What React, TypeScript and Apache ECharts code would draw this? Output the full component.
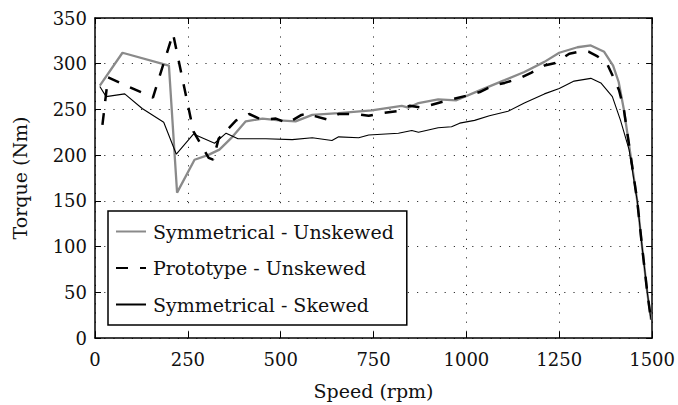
import React, { useEffect, useRef } from "react";
import * as echarts from "echarts";

const seriesNames = ["Symmetrical - Unskewed", "Prototype - Unskewed", "Symmetrical - Skewed"];

const symUnskewedSpeed = [13, 74, 199, 221, 268, 304, 335, 370, 406, 451, 496, 540, 585, 656, 745, 826, 844, 871, 924, 973, 1031, 1103, 1156, 1210, 1250, 1299, 1335, 1371, 1395, 1410, 1424, 1442, 1460, 1473, 1487, 1497];
const symUnskewedTorque = [276, 312, 298, 159, 195, 200, 206, 220, 237, 240, 238, 237, 244, 246, 249, 254, 252, 257, 261, 260, 270, 282, 291, 302, 312, 318, 320, 313, 298, 280, 250, 200, 150, 100, 50, 20];

const protoUnskewedSpeed = [20, 35, 156, 210, 265, 306, 318, 333, 380, 415, 447, 487, 518, 556, 576, 589, 625, 656, 701, 737, 772, 812, 848, 879, 924, 960, 1000, 1036, 1071, 1103, 1143, 1174, 1210, 1241, 1277, 1313, 1330, 1353, 1380, 1397, 1411, 1424, 1442, 1460, 1473, 1487, 1497];
const protoUnskewedTorque = [233, 285, 263, 333, 226, 197, 195, 218, 238, 245, 239, 240, 235, 244, 246, 243, 239, 245, 245, 243, 246, 248, 254, 252, 257, 261, 265, 269, 276, 279, 284, 290, 298, 301, 311, 314, 313, 308, 299, 284, 271, 250, 200, 150, 100, 50, 20];

const symSkewedSpeed = [13, 30, 80, 127, 185, 219, 265, 322, 353, 385, 460, 531, 585, 638, 656, 710, 737, 817, 853, 871, 924, 960, 982, 1022, 1062, 1112, 1156, 1210, 1250, 1290, 1335, 1362, 1393, 1415, 1438, 1460, 1473, 1487, 1497];
const symSkewedTorque = [275, 264, 267, 251, 236, 201, 223, 213, 224, 218, 218, 217, 219, 216, 220, 219, 222, 224, 227, 225, 230, 231, 235, 238, 243, 248, 257, 267, 273, 281, 284, 279, 264, 238, 206, 150, 100, 50, 20];

const zip = (xs: number[], ys: number[]) => xs.map((x, i) => [x, ys[i]]);

const FONT = "DejaVu Serif";

export default function App() {
  const ref = useRef<HTMLDivElement>(null);
  useEffect(() => {
    if (!ref.current) return;
    const chart = echarts.init(ref.current, null, { renderer: "svg" });
    const splitLine = { show: true, lineStyle: { color: "#333", width: 1, type: [1.2, 8] as any } };
    const axisLine = { show: true, onZero: false, lineStyle: { color: "#000", width: 1.5 } };
    const axisTick = { show: true, inside: true, length: 6, lineStyle: { color: "#000", width: 1 } };
    const fmt = (v: number) => String(v);
    chart.setOption({
      animation: false,
      backgroundColor: "#fff",
      grid: { left: 95, top: 18, right: 23, bottom: 67 },
      legend: {
        orient: "vertical",
        left: 108,
        top: 211,
        padding: [11, 13, 11, 7],
        itemGap: 17.5,
        itemWidth: 30,
        itemHeight: 14,
        backgroundColor: "#fff",
        borderColor: "#000",
        borderWidth: 1.5,
        borderRadius: 0,
        itemStyle: { color: "transparent", borderWidth: 0, opacity: 0 },
        textStyle: { fontFamily: FONT, fontSize: 19, color: "#111", padding: [0, 0, 0, 2] },
        data: seriesNames,
      },
      xAxis: [
        {
          type: "value",
          min: 0,
          max: 1500,
          interval: 250,
          name: "Speed (rpm)",
          nameLocation: "middle",
          nameGap: 43,
          nameTextStyle: { fontFamily: FONT, fontSize: 19, color: "#111" },
          axisLine,
          axisTick,
          axisLabel: { fontFamily: FONT, fontSize: 18, color: "#111", margin: 12, formatter: fmt },
          splitLine,
        },
        {
          type: "value",
          position: "top",
          min: 0,
          max: 1500,
          interval: 250,
          axisLine,
          axisTick,
          axisLabel: { show: false },
          splitLine: { show: false },
        },
      ],
      yAxis: [
        {
          type: "value",
          min: 0,
          max: 350,
          interval: 50,
          name: "Torque (Nm)",
          nameLocation: "middle",
          nameGap: 66,
          nameTextStyle: { fontFamily: FONT, fontSize: 19, color: "#111" },
          axisLine,
          axisTick,
          axisLabel: { fontFamily: FONT, fontSize: 18, color: "#111", margin: 8, formatter: fmt },
          splitLine,
        },
        {
          type: "value",
          position: "right",
          min: 0,
          max: 350,
          interval: 50,
          axisLine,
          axisTick,
          axisLabel: { show: false },
          splitLine: { show: false },
        },
      ],
      series: [
        {
          name: seriesNames[0],
          type: "line",
          data: zip(symUnskewedSpeed, symUnskewedTorque),
          symbol: "none",
          color: "#8a8a8a",
          lineStyle: { color: "#8a8a8a", width: 2.3 },
        },
        {
          name: seriesNames[1],
          type: "line",
          data: zip(protoUnskewedSpeed, protoUnskewedTorque),
          symbol: "none",
          color: "#000",
          lineStyle: { color: "#000", width: 2.5, type: [12, 12] },
        },
        {
          name: seriesNames[2],
          type: "line",
          data: zip(symSkewedSpeed, symSkewedTorque),
          symbol: "none",
          color: "#000",
          lineStyle: { color: "#000", width: 1.1 },
        },
      ],
    });
    return () => chart.dispose();
  }, []);
  return <div ref={ref} style={{ width: 678, height: 405, position: "absolute", left: 0, top: 0 }} />;
}
